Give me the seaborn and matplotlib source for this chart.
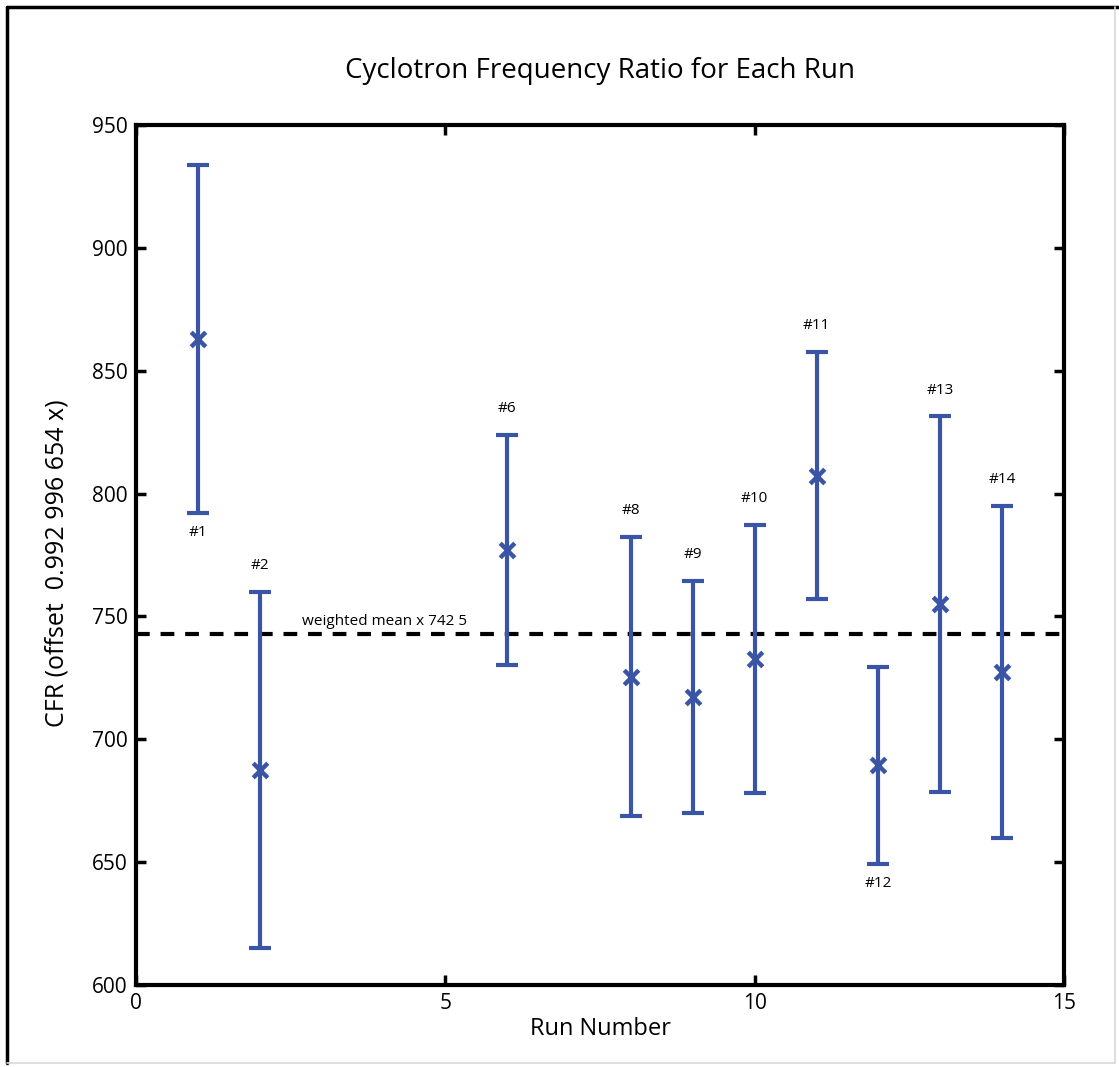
import numpy as np
import pandas as pd
import matplotlib
matplotlib.use("Agg")
import matplotlib.pyplot as plt
from matplotlib.lines import Line2D
import seaborn as sns

# ---- data ----
runs = [1, 2, 6, 8, 9, 10, 11, 12, 13, 14]
cfr = [862.8, 687.5, 777.0, 725.5, 717.3, 732.7, 807.2, 689.4, 755.0, 727.4]
cfr_err = [70.9, 72.3, 46.9, 56.9, 47.1, 54.4, 50.3, 40.2, 76.4, 67.7]
run_labels = ["#1", "#2", "#6", "#8", "#9", "#10", "#11", "#12", "#13", "#14"]
label_side = ["below", "above", "above", "above", "above", "above", "above", "below", "above", "above"]
weighted_mean = 743.0
mean_label = "weighted mean x 742 5"

x_ticks = [0, 5, 10, 15]
y_ticks = [600, 650, 700, 750, 800, 850, 900, 950]

title = "Cyclotron Frequency Ratio for Each Run"
xlabel = "Run Number"
ylabel = "CFR (offset  0.992 996 654 x)"

df = pd.DataFrame({"run": runs, "cfr": cfr, "err": cfr_err, "label": run_labels, "side": label_side})

sns.set_theme(style="white")
plt.rcParams["font.family"] = ["Open Sans", "DejaVu Sans"]
plt.rcParams["text.color"] = "black"
plt.rcParams["axes.labelcolor"] = "black"
plt.rcParams["xtick.color"] = "black"
plt.rcParams["ytick.color"] = "black"

blue = "#3a55a6"

fig = plt.figure(figsize=(11.19, 10.67), dpi=100)
ax = fig.add_axes([136 / 1119, 1 - 985 / 1067, 928 / 1119, 860 / 1067])

ax.errorbar(df["run"], df["cfr"], yerr=df["err"], fmt="none", ecolor=blue,
            elinewidth=3, capsize=8, capthick=3, zorder=3)
sns.scatterplot(data=df, x="run", y="cfr", marker="x", s=110, color=blue,
                linewidth=3.2, ax=ax, zorder=4, legend=False)

ax.axhline(weighted_mean, color="black", lw=3, ls=(0, (3.3, 2.6)), zorder=2)
ax.text(2.68, weighted_mean + 2.0, mean_label, fontsize=11, ha="left", va="bottom", color="black")

for _, r in df.iterrows():
    if r["side"] == "above":
        ax.annotate(r["label"], (r["run"], r["cfr"] + r["err"]), xytext=(0, 19),
                    textcoords="offset points", ha="center", va="center", fontsize=11, color="black")
    else:
        ax.annotate(r["label"], (r["run"], r["cfr"] - r["err"]), xytext=(0, -14),
                    textcoords="offset points", ha="center", va="center", fontsize=11, color="black")

ax.set_xlim(0, 15)
ax.set_ylim(600, 950)
ax.set_xticks(x_ticks)
ax.set_yticks(y_ticks)
ax.tick_params(direction="in", length=7, width=2.5, labelsize=15, top=True, right=True,
               bottom=True, left=True, colors="black", pad=6)
ax.tick_params(axis="x", labeltop=False, labelbottom=True)
ax.tick_params(axis="y", labelright=False)
for s in ax.spines.values():
    s.set_visible(True)
    s.set_color("black")
    s.set_linewidth(3)

ax.set_xlabel(xlabel, fontsize=17, labelpad=2, color="black")
ax.set_ylabel(ylabel, fontsize=18, labelpad=16, color="black")
ax.yaxis.label.set_y(0.49)
ax.set_title(title, fontsize=20, pad=34, color="black")

# figure frame (left/top black, right/bottom light gray)
fig.add_artist(Line2D([7 / 1119, 7 / 1119], [0.004, 1 - 7 / 1067], color="black", lw=2.5, transform=fig.transFigure))
fig.add_artist(Line2D([7 / 1119, 1.0], [1 - 7 / 1067, 1 - 7 / 1067], color="black", lw=2.5, transform=fig.transFigure))
fig.add_artist(Line2D([1115 / 1119, 1115 / 1119], [0.004, 1 - 7 / 1067], color="#d8d8d8", lw=1.2, transform=fig.transFigure))
fig.add_artist(Line2D([7 / 1119, 1115 / 1119], [4 / 1067, 4 / 1067], color="#d8d8d8", lw=1.2, transform=fig.transFigure))

fig.savefig("out.png", dpi=100, facecolor="white")
